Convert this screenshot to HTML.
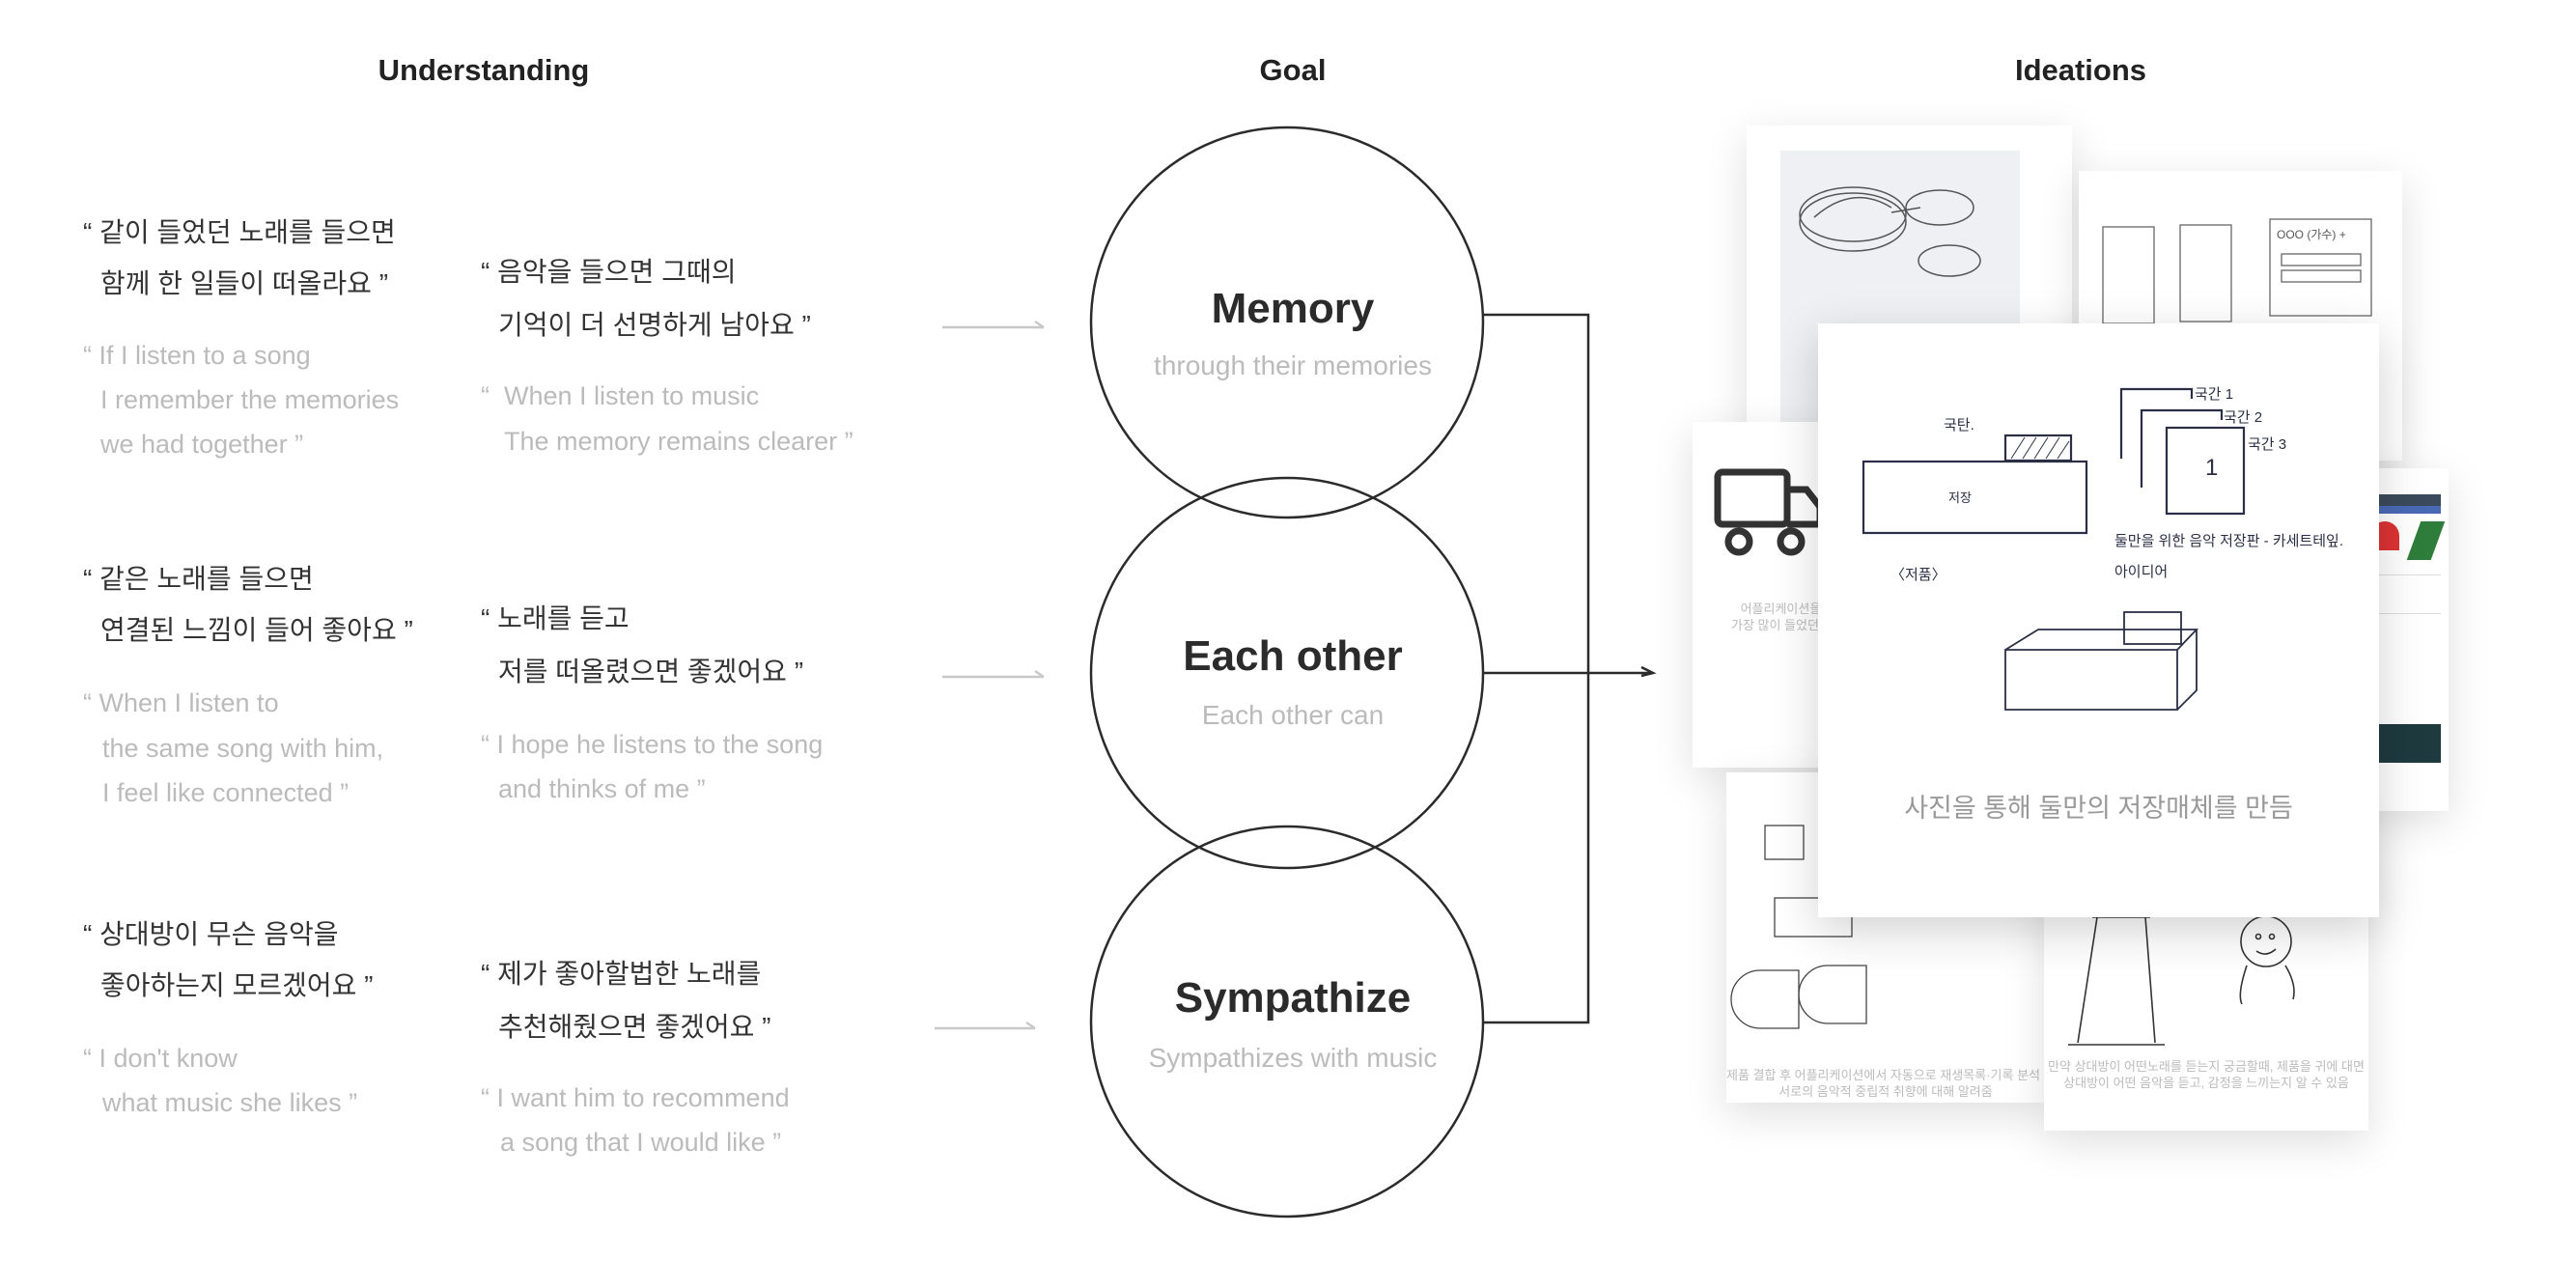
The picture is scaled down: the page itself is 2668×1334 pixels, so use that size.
<!DOCTYPE html>
<html><head><meta charset="utf-8">
<style>
html,body{margin:0;padding:0;background:#fff;}
body{width:2668px;height:1334px;position:relative;overflow:hidden;font-family:"Liberation Sans","Noto Sans CJK KR",sans-serif;}
.t{position:absolute;white-space:nowrap;}
.h{font-weight:bold;font-size:31px;color:#222;transform:translateX(-50%);}
.k{font-size:28px;color:#333;font-family:"Liberation Sans","Noto Sans CJK KR",sans-serif;line-height:1;}
.e{font-size:27px;color:#bbb;line-height:1;}
.card{position:absolute;background:#fff;box-shadow:0 12px 40px rgba(0,0,0,0.13);}
.cap{position:absolute;font-size:13px;color:#bbb;text-align:center;white-space:nowrap;line-height:17px;font-family:"Liberation Sans","Noto Sans CJK KR",sans-serif;}
</style></head><body>

<div class="t h" style="left:501px;top:55px;">Understanding</div>
<div class="t h" style="left:1339px;top:55px;">Goal</div>
<div class="t h" style="left:2155px;top:55px;">Ideations</div>

<!-- group 1 -->
<div class="t k" style="left:86px;top:227px;">“ 같이 들었던 노래를 들으면</div>
<div class="t k" style="left:104px;top:280px;">함께 한 일들이 떠올라요 ”</div>
<div class="t e" style="left:86px;top:355px;">“ If I listen to a song</div>
<div class="t e" style="left:104px;top:401px;">I remember the memories</div>
<div class="t e" style="left:104px;top:447px;">we had together ”</div>
<div class="t k" style="left:498px;top:268px;">“ 음악을 들으면 그때의</div>
<div class="t k" style="left:516px;top:323px;">기억이 더 선명하게 남아요 ”</div>
<div class="t e" style="left:498px;top:397px;">“ &nbsp;When I listen to music</div>
<div class="t e" style="left:522px;top:444px;">The memory remains clearer ”</div>

<!-- group 2 -->
<div class="t k" style="left:86px;top:586px;">“ 같은 노래를 들으면</div>
<div class="t k" style="left:104px;top:639px;">연결된 느낌이 들어 좋아요 ”</div>
<div class="t e" style="left:86px;top:715px;">“ When I listen to</div>
<div class="t e" style="left:106px;top:762px;">the same song with him,</div>
<div class="t e" style="left:106px;top:808px;">I feel like connected ”</div>
<div class="t k" style="left:498px;top:627px;">“ 노래를 듣고</div>
<div class="t k" style="left:516px;top:682px;">저를 떠올렸으면 좋겠어요 ”</div>
<div class="t e" style="left:498px;top:758px;">“ I hope he listens to the song</div>
<div class="t e" style="left:516px;top:804px;">and thinks of me ”</div>

<!-- group 3 -->
<div class="t k" style="left:86px;top:954px;">“ 상대방이 무슨 음악을</div>
<div class="t k" style="left:104px;top:1007px;">좋아하는지 모르겠어요 ”</div>
<div class="t e" style="left:86px;top:1083px;">“ I don't know</div>
<div class="t e" style="left:106px;top:1129px;">what music she likes ”</div>
<div class="t k" style="left:498px;top:995px;">“ 제가 좋아할법한 노래를</div>
<div class="t k" style="left:516px;top:1050px;">추천해줬으면 좋겠어요 ”</div>
<div class="t e" style="left:498px;top:1124px;">“ I want him to recommend</div>
<div class="t e" style="left:518px;top:1170px;">a song that I would like ”</div>

<svg width="2668" height="1334" style="position:absolute;left:0;top:0;">
 <g stroke="#c8c8c8" stroke-width="2.5" fill="none">
  <line x1="976" y1="339" x2="1081" y2="339"/><path d="M1072 333 L1081 339"/>
  <line x1="976" y1="701" x2="1081" y2="701"/><path d="M1072 695 L1081 701"/>
  <line x1="968" y1="1065" x2="1072" y2="1065"/><path d="M1063 1059 L1072 1065"/>
 </g>
 <g stroke="#2b2b2b" stroke-width="2.5" fill="none">
  <ellipse cx="1333" cy="334" rx="203" ry="202"/>
  <ellipse cx="1333" cy="697" rx="203" ry="202"/>
  <ellipse cx="1333" cy="1058" rx="203" ry="202"/>
  <polyline points="1536,326 1645,326 1645,1059 1536,1059"/>
  <line x1="1536" y1="697" x2="1712" y2="697"/>
  <path d="M1700 691 L1712 697 L1700 700"/>
 </g>
 <g font-family="Liberation Sans, sans-serif" text-anchor="middle">
  <text x="1339" y="334" font-size="44" font-weight="bold" fill="#2b2b2b">Memory</text>
  <text x="1339" y="388" font-size="28" fill="#bbb">through their memories</text>
  <text x="1339" y="694" font-size="44" font-weight="bold" fill="#2b2b2b">Each other</text>
  <text x="1339" y="750" font-size="28" fill="#bbb">Each other can</text>
  <text x="1339" y="1048" font-size="44" font-weight="bold" fill="#2b2b2b">Sympathize</text>
  <text x="1339" y="1105" font-size="28" fill="#bbb">Sympathizes with music</text>
 </g>
</svg>

<!-- ideation cards -->
<div class="card" style="left:1809px;top:130px;width:337px;height:380px;">
 <div style="position:absolute;left:35px;top:26px;width:248px;height:282px;background:#eef0f4;"></div>
 <svg width="337" height="380" style="position:absolute;left:0;top:0;"><g stroke="#555" fill="none" stroke-width="1.5">
  <ellipse cx="110" cy="100" rx="55" ry="30"/><ellipse cx="110" cy="92" rx="55" ry="28"/>
  <path d="M70 95 Q110 60 150 85"/><ellipse cx="200" cy="85" rx="35" ry="18"/><ellipse cx="210" cy="140" rx="32" ry="16"/>
  <line x1="150" y1="90" x2="180" y2="85"/></g></svg>
</div>
<div class="card" style="left:2153px;top:177px;width:335px;height:300px;">
 <svg width="335" height="300" style="position:absolute;left:0;top:0;"><g stroke="#666" fill="none" stroke-width="1.3">
  <rect x="25" y="58" width="53" height="100"/><rect x="105" y="56" width="53" height="100"/>
  <rect x="198" y="50" width="105" height="100"/><rect x="210" y="86" width="82" height="12"/><rect x="210" y="103" width="82" height="12"/></g>
  <text x="205" y="70" font-size="12" fill="#555">OOO (가수) +</text></svg>
</div>
<div class="card" style="left:1753px;top:437px;width:350px;height:358px;">
 <svg width="200" height="200" style="position:absolute;left:20px;top:46px;"><g stroke="#333" fill="none" stroke-width="7">
  <rect x="6" y="6" width="72" height="54" rx="5"/><path d="M78 24 H98 L112 42 V60 H78"/>
  <circle cx="28" cy="78" r="11"/><circle cx="82" cy="78" r="11"/></g></svg>
 <div class="cap" style="left:40px;top:185px;">어플리케이션을 통<br>가장 많이 들었던 가수</div>
</div>
<div class="card" style="left:2200px;top:485px;width:336px;height:355px;">
 <div style="position:absolute;left:230px;top:27px;width:98px;height:12px;background:#3b4a5c;"></div>
 <div style="position:absolute;left:230px;top:39px;width:98px;height:8px;background:#4a69b5;"></div>
 <div style="position:absolute;left:255px;top:55px;width:30px;height:30px;background:#d33;border-radius:50% 50% 0 0;"></div>
 <div style="position:absolute;left:300px;top:55px;width:25px;height:40px;background:#2f7d3a;transform:skewX(-20deg);"></div>
 <div style="position:absolute;left:230px;top:265px;width:98px;height:40px;background:#1e3a3f;"></div>
 <div style="position:absolute;left:230px;top:110px;width:98px;height:1px;background:#ddd;"></div>
 <div style="position:absolute;left:230px;top:150px;width:98px;height:1px;background:#ddd;"></div>
</div>
<div class="card" style="left:1788px;top:800px;width:330px;height:342px;">
 <svg width="330" height="342" style="position:absolute;left:0;top:0;"><g stroke="#444" fill="none" stroke-width="1.3">
  <rect x="40" y="55" width="40" height="35"/><rect x="50" y="130" width="80" height="40"/>
  <path d="M35 205 h40 v60 h-40 a12 12 0 0 1 0 -60z"/><path d="M105 200 h40 v60 h-40 a12 12 0 0 1 0 -60z"/></g></svg>
 <div class="cap" style="left:0;width:330px;top:305px;">제품 결합 후 어플리케이션에서 자동으로 재생목록·기록 분석 후<br>서로의 음악적 중립적 취향에 대해 알려줌</div>
</div>
<div class="card" style="left:2117px;top:840px;width:336px;height:331px;">
 <svg width="336" height="331" style="position:absolute;left:0;top:0;"><g stroke="#333" fill="none" stroke-width="1.6">
  <path d="M55 110 L35 240 M105 110 L115 240 M50 110 H110 M25 242 H125"/>
  <circle cx="230" cy="135" r="26"/><circle cx="222" cy="130" r="2.5"/><circle cx="236" cy="130" r="2.5"/><path d="M220 145 Q230 152 240 143"/><path d="M210 160 Q200 190 205 200 M250 160 Q262 180 258 195"/></g></svg>
 <div class="cap" style="left:0;width:336px;top:256px;">만약 상대방이 어떤노래를 듣는지 궁금할때, 제품을 귀에 대면<br>상대방이 어떤 음악을 듣고, 감정을 느끼는지 알 수 있음</div>
</div>
<div class="card" style="left:1883px;top:335px;width:581px;height:615px;box-shadow:0 14px 45px rgba(0,0,0,0.18);">
 <svg width="581" height="615" style="position:absolute;left:0;top:0;"><g stroke="#2a2f45" fill="none" stroke-width="2.2">
  <rect x="47" y="143" width="231" height="74"/>
  <rect x="194" y="116" width="68" height="26"/>
  <path d="M200 140 L214 118 M212 140 L226 118 M224 140 L238 118 M236 140 L250 118 M248 140 L260 122" stroke-width="1"/>
  <path d="M314 140 V68 H387 V78"/>
  <path d="M335 170 V90 H418 V100"/>
  <rect x="361" y="108" width="80" height="89"/>
  <path d="M194 338 H372 V400 H194 Z M194 338 L228 317 H392 L372 338 M392 317 V380 L372 400" stroke-width="1.8"/>
  <rect x="317" y="299" width="59" height="33" stroke-width="1.8"/>
 </g>
 <g font-family="Liberation Sans, Noto Sans CJK KR, sans-serif" fill="#2a2f45">
  <text x="401" y="157" font-size="24">1</text>
  <text x="390" y="78" font-size="15">국간 1</text><text x="420" y="102" font-size="15">국간 2</text><text x="445" y="130" font-size="15">국간 3</text>
  <text x="130" y="110" font-size="15">국탄.</text><text x="135" y="185" font-size="13">저장</text>
  <text x="75" y="265" font-size="15">〈저품〉</text>
  <text x="307" y="230" font-size="15">둘만을 위한 음악 저장판 - 카세트테잎.</text>
  <text x="307" y="262" font-size="15">아이디어</text>
 </g></svg>
 <div style="position:absolute;left:0;width:581px;top:480px;text-align:center;font-size:27px;color:#999;font-family:'Liberation Sans','Noto Sans CJK KR',sans-serif;">사진을 통해 둘만의 저장매체를 만듬</div>
</div>

</body></html>
